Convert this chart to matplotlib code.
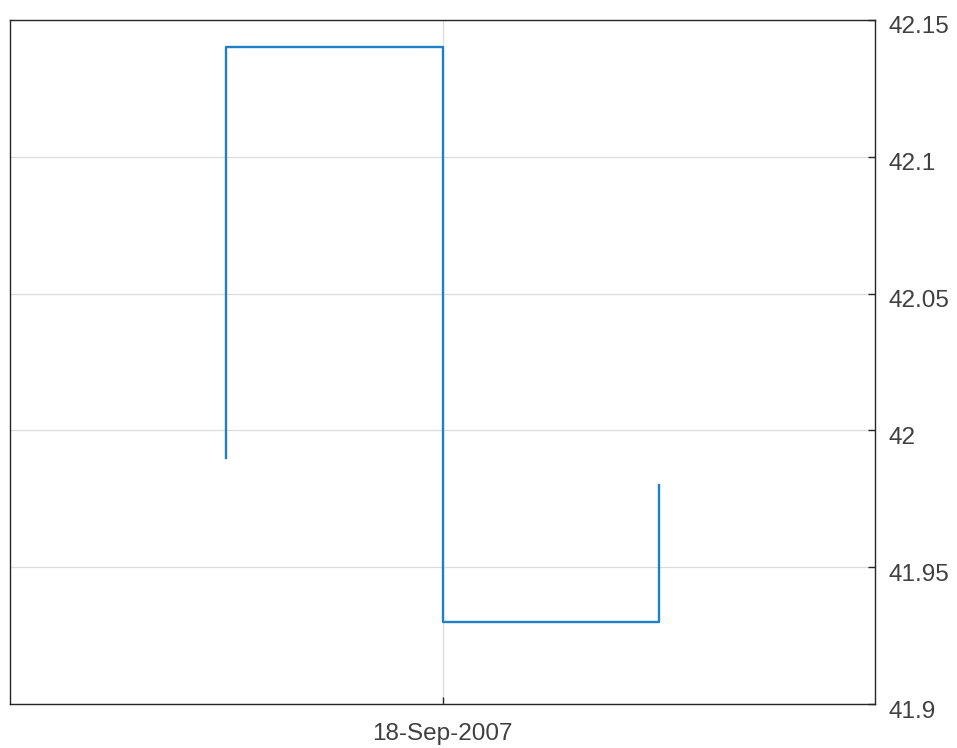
import datetime as dt
import matplotlib
matplotlib.use('Agg')
import matplotlib.pyplot as plt
import matplotlib.transforms as mtransforms

# step-line data (date, price)
dates = [dt.datetime(2007, 9, 17), dt.datetime(2007, 9, 17),
         dt.datetime(2007, 9, 18), dt.datetime(2007, 9, 19)]
prices = [41.99, 42.14, 41.93, 41.98]
yticks = [41.9, 41.95, 42.0, 42.05, 42.1, 42.15]
yticklabels = ['41.9', '41.95', '42', '42.05', '42.1', '42.15']
xtick = [dt.datetime(2007, 9, 18)]
xticklabel = ['18-Sep-2007']

plt.rcParams['font.family'] = ['Liberation Sans', 'DejaVu Sans']

fig = plt.figure(figsize=(9.57, 7.48), dpi=100)
ax = fig.add_axes([0.0104, 0.0588, 0.904, 0.9145])

ax.step(dates, prices, where='post', color='#1f80c8', lw=1.7)

ax.set_xlim(dt.datetime(2007, 9, 16), dt.datetime(2007, 9, 20))
ax.set_ylim(41.9, 42.15)
ax.set_xticks(xtick)
ax.set_xticklabels(xticklabel)
ax.set_yticks(yticks)
ax.set_yticklabels(yticklabels)
ax.yaxis.tick_right()

ax.grid(True, color='#dcdcdc', lw=0.9)
ax.set_axisbelow(True)
for s in ax.spines.values():
    s.set_color('#262626')
    s.set_linewidth(1.0)
ax.tick_params(direction='in', length=5, width=1, colors='#262626',
               labelsize=17.5, right=True, left=False, top=False)
ax.tick_params(axis='x', pad=14)
ax.tick_params(axis='y', pad=10)
shift = mtransforms.ScaledTranslation(0, -5 / 100, fig.dpi_scale_trans)
for lbl in ax.get_xticklabels() + ax.get_yticklabels():
    lbl.set_color('#404040')
for lbl in ax.get_yticklabels():
    lbl.set_transform(lbl.get_transform() + shift)

plt.savefig('out.png', dpi=100)
